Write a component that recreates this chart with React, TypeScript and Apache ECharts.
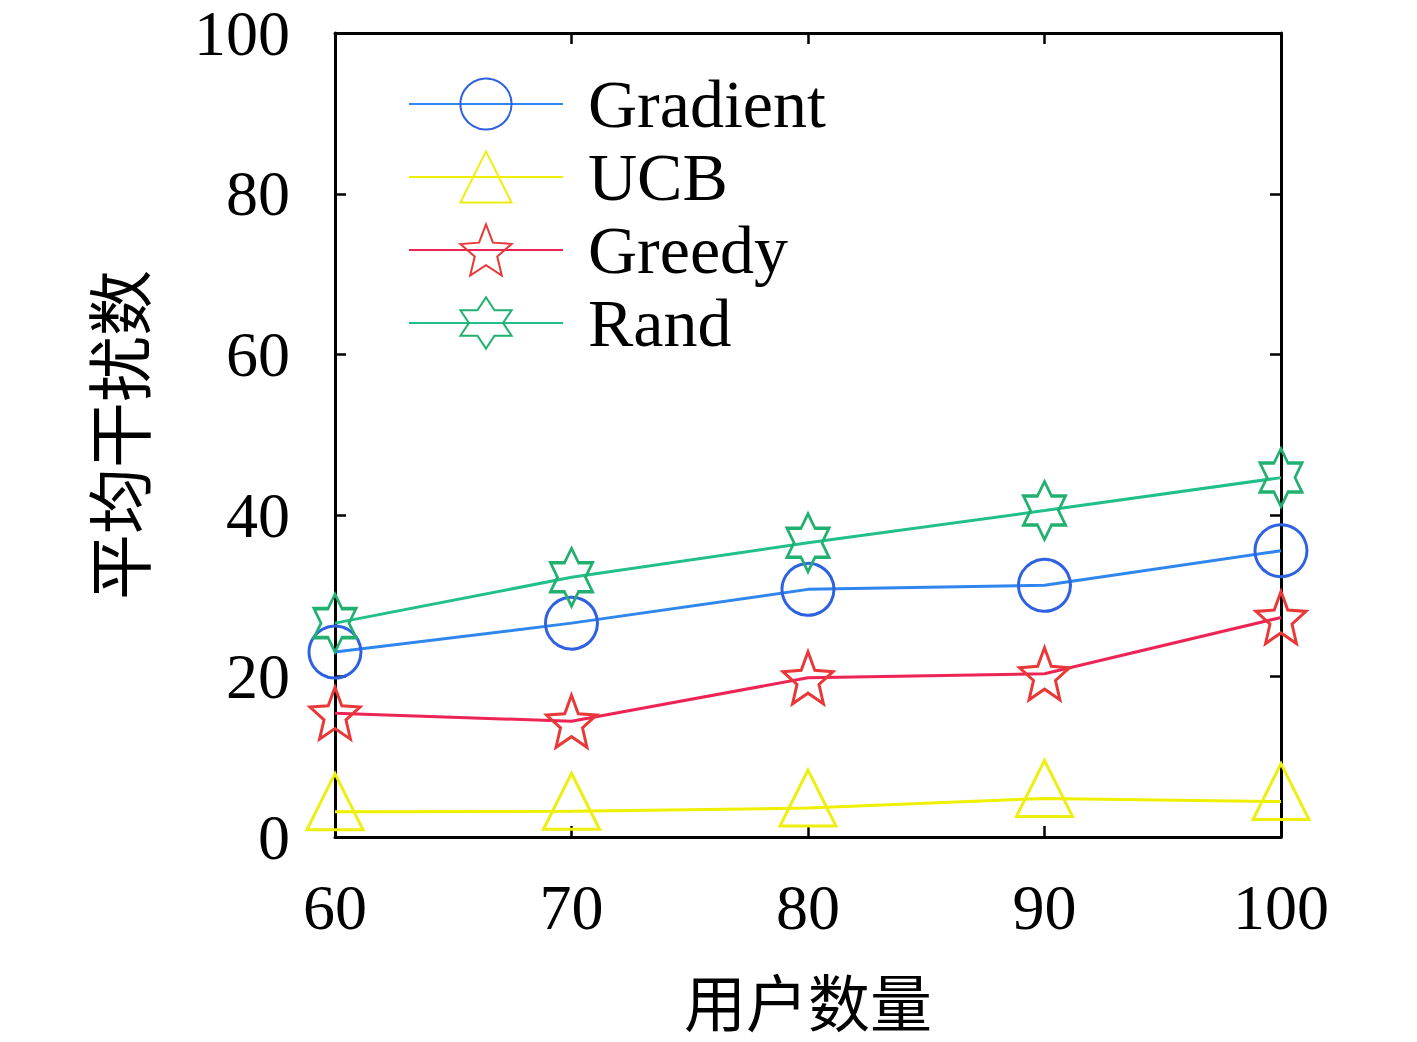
import React, { useEffect, useRef } from "react";
import * as echarts from "echarts";

const users = [60, 70, 80, 90, 100];
const gradient = [23.0, 26.6, 30.8, 31.3, 35.6];
const ucb = [3.15, 3.2, 3.6, 4.8, 4.4];
const greedy = [15.4, 14.4, 19.8, 20.3, 27.3];
const rand = [26.6, 32.3, 36.6, 40.6, 44.7];
const yTicks = [0, 20, 40, 60, 80, 100];

const seriesNames = ["Gradient", "UCB", "Greedy", "Rand"];

const STAR5 =
  "path://M50 0 L62.9 32.2 L97.55 34.55 L70.9 56.8 L79.39 90.45 L50 72 L20.61 90.45 L29.1 56.8 L2.45 34.55 L37.1 32.2 Z";
const STAR6 =
  "path://M50 0 L64.43 25 L93.3 25 L78.87 50 L93.3 75 L64.43 75 L50 100 L35.57 75 L6.7 75 L21.13 50 L6.7 25 L35.57 25 Z";
const TRI = "path://M50 0 L100 100 L0 100 Z";

const FONT = "'Liberation Serif', 'Times New Roman', serif";
const CJK = "'Noto Sans CJK SC', sans-serif";

export default function App() {
  const ref = useRef<HTMLDivElement>(null);
  useEffect(() => {
    if (!ref.current) return;
    const chart = echarts.init(ref.current, undefined, { renderer: "svg" });
    const pair = (arr: number[]) => users.map((u, i) => [u, arr[i]]);
    const mk = (
      name: string,
      arr: number[],
      lineColor: string,
      markColor: string,
      symbol: string,
      size: any,
      offset?: any
    ) => ({
      name,
      type: "line",
      data: pair(arr),
      symbol,
      symbolSize: size,
      symbolOffset: offset || [0, 0],
      showAllSymbol: true,
      lineStyle: { color: lineColor, width: 3 },
      itemStyle: { color: "rgba(255,255,255,0)", borderColor: markColor, borderWidth: 3 },
      emphasis: { disabled: true },
      z: 3,
    });
    chart.setOption({
      animation: false,
      backgroundColor: "#ffffff",
      grid: {
        left: 327,
        right: 128,
        top: 25,
        bottom: 197,
        containLabel: false,
        outerBoundsMode: "none",
      },
      legend: {
        left: 400,
        top: 62,
        orient: "vertical",
        padding: 0,
        itemWidth: 154,
        itemHeight: 64,
        itemGap: 5,
        data: seriesNames,
        textStyle: {
          fontFamily: FONT,
          fontSize: 68,
          lineHeight: 64,
          color: "#000",
          padding: [0, 0, 0, 20],
        },
      },
      xAxis: [
        {
          type: "value",
          min: 60,
          max: 100,
          interval: 10,
          name: "用户数量",
          nameLocation: "middle",
          nameGap: 138,
          nameTextStyle: { fontFamily: CJK, fontSize: 62, lineHeight: 50, color: "#000" },
          axisLine: { show: true, onZero: false, lineStyle: { color: "#000", width: 3 } },
          axisTick: { show: true, inside: true, length: 11, lineStyle: { color: "#000", width: 2.5 } },
          axisLabel: { fontFamily: FONT, fontSize: 64, color: "#000", margin: 38 },
          splitLine: { show: false },
        },
        {
          type: "value",
          position: "top",
          min: 60,
          max: 100,
          interval: 10,
          axisLine: { show: true, onZero: false, lineStyle: { color: "#000", width: 3 } },
          axisTick: { show: true, inside: true, length: 11, lineStyle: { color: "#000", width: 2.5 } },
          axisLabel: { show: false },
          splitLine: { show: false },
        },
      ],
      yAxis: [
        {
          type: "value",
          min: yTicks[0],
          max: yTicks[yTicks.length - 1],
          interval: 20,
          name: "平均干扰数",
          nameLocation: "middle",
          nameGap: 186,
          nameTextStyle: { fontFamily: CJK, fontSize: 66, color: "#000" },
          axisLine: { show: true, onZero: false, lineStyle: { color: "#000", width: 3 } },
          axisTick: { show: true, inside: true, length: 11, lineStyle: { color: "#000", width: 2.5 } },
          axisLabel: { fontFamily: FONT, fontSize: 64, lineHeight: 48, color: "#000", margin: 45 },
          splitLine: { show: false },
        },
        {
          type: "value",
          position: "right",
          min: 0,
          max: 100,
          interval: 20,
          axisLine: { show: true, onZero: false, lineStyle: { color: "#000", width: 3 } },
          axisTick: { show: true, inside: true, length: 11, lineStyle: { color: "#000", width: 2.5 } },
          axisLabel: { show: false },
          splitLine: { show: false },
        },
      ],
      series: [
        mk("Gradient", gradient, "#2f86ee", "#2f62e0", "circle", 52),
        mk("UCB", ucb, "#eef000", "#eeee10", TRI, [56, 56], [0, -10]),
        mk("Greedy", greedy, "#ee2455", "#e83838", STAR5, [50, 52]),
        mk("Rand", rand, "#22c088", "#22b070", STAR6, [42, 58]),
      ],
    });
    return () => chart.dispose();
  }, []);
  return <div ref={ref} style={{ width: 1401, height: 1026 }} />;
}
